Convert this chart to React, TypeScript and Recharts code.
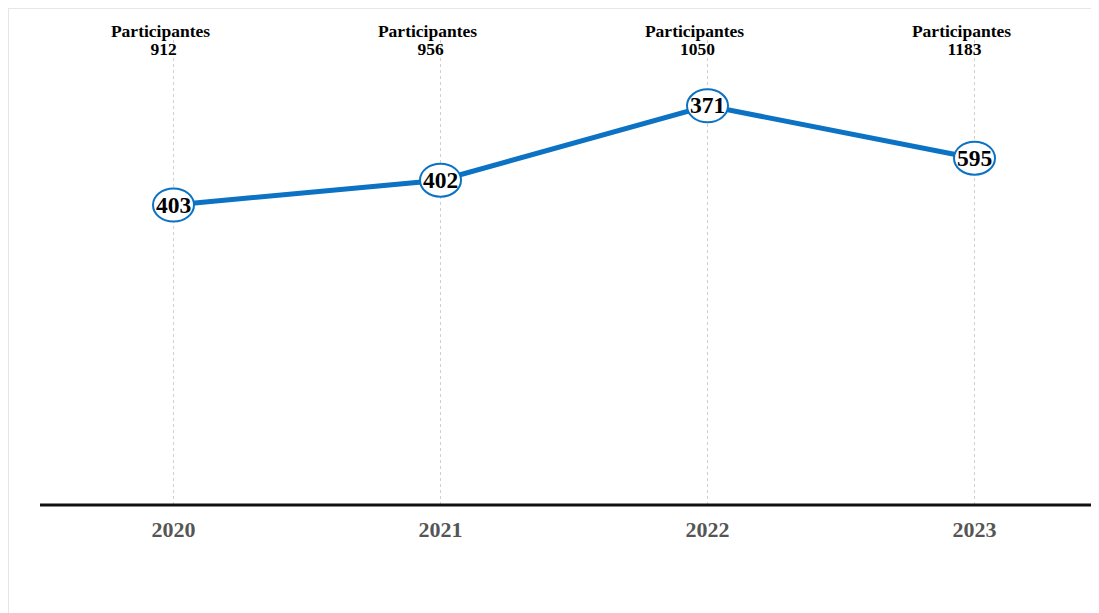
import { LineChart, Line, XAxis, YAxis, ReferenceLine } from "recharts";

const years = ["2020", "2021", "2022", "2023"];
const participants = [912, 956, 1050, 1183];
const pointLabels = [403, 402, 371, 595];
// vertical position of each point on a 0–100 scale
const levels = [64.1, 69.4, 85.3, 74.1];

const data = years.map((year, i) => ({
  year,
  level: levels[i],
  label: pointLabels[i],
  participants: participants[i],
}));

const BLUE = "#0b72c4";
const SERIF = "Liberation Serif, Times New Roman, serif";

function ParticipantTick(props: any) {
  const { x, payload } = props;
  const row = data[payload.index];
  return (
    <g style={{ fontFamily: SERIF, fontWeight: 700, fontSize: 17.5 }}>
      <text x={x - 13} y={28} textAnchor="middle" fill="#000">
        Participantes
      </text>
      <text x={x - 10} y={46} textAnchor="middle" fill="#000">
        {row ? row.participants : ""}
      </text>
    </g>
  );
}

function YearTick(props: any) {
  const { x, payload } = props;
  return (
    <text
      x={x}
      y={528}
      textAnchor="middle"
      style={{ fontFamily: SERIF, fontWeight: 700, fontSize: 22 }}
      fill="#555"
    >
      {payload.value}
    </text>
  );
}

function LabelDot(props: any) {
  const { cx, cy, payload } = props;
  if (cx == null || cy == null) return null;
  return (
    <g>
      <ellipse cx={cx} cy={cy} rx={20.5} ry={16.5} fill="#fff" stroke={BLUE} strokeWidth={2} />
      <text
        x={cx}
        y={cy + 7.5}
        textAnchor="middle"
        style={{ fontFamily: SERIF, fontWeight: 700, fontSize: 23.5 }}
        fill="#000"
      >
        {payload.label}
      </text>
    </g>
  );
}

export default function App() {
  return (
    <div
      style={{
        width: 1090,
        height: 605,
        overflow: "hidden",
        borderLeft: "1px solid #e6e6e6",
        borderTop: "1px solid #e6e6e6",
        background: "#fff",
      }}
    >
      <LineChart width={1110} height={600} data={data} margin={{ top: 0, right: 11, left: 31, bottom: 0 }}>
        <XAxis
          xAxisId="top"
          orientation="top"
          dataKey="year"
          height={28}
          padding={{ left: 133.5, right: 133.5 }}
          axisLine={false}
          tickLine={false}
          tick={<ParticipantTick />}
          interval={0}
        />
        <XAxis
          dataKey="year"
          height={104}
          padding={{ left: 133.5, right: 133.5 }}
          axisLine={{ stroke: "#111", strokeWidth: 3 }}
          tickLine={false}
          tick={<YearTick />}
          interval={0}
        />
        <YAxis hide domain={[0, 100]} />
        {years.map((y) => (
          <ReferenceLine key={y} x={y} stroke="#cfcfcf" strokeDasharray="3 3" />
        ))}
        <Line
          type="linear"
          dataKey="level"
          stroke={BLUE}
          strokeWidth={5}
          dot={<LabelDot />}
          activeDot={false}
          isAnimationActive={false}
        />
      </LineChart>
    </div>
  );
}
